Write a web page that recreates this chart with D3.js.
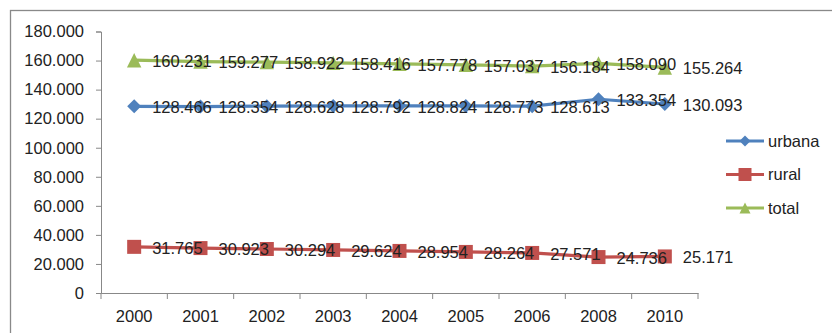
<!DOCTYPE html>
<html><head><meta charset="utf-8">
<script src="https://d3js.org/d3.v7.min.js"></script>
<style>body{margin:0;background:#fff}svg{display:block}text{font-family:"Liberation Sans",Arial,sans-serif;fill:#222}</style>
</head><body><svg id="c" width="832" height="333"></svg>
<script>
const years = ["2000","2001","2002","2003","2004","2005","2006","2008","2010"];
const urbana = [128.466,128.354,128.628,128.792,128.824,128.773,128.613,133.354,130.093];
const rural = [31.765,30.923,30.294,29.624,28.954,28.264,27.571,24.736,25.171];
const total = [160.231,159.277,158.922,158.416,157.778,157.037,156.184,158.090,155.264];
const yTicks = [0,20,40,60,80,100,120,140,160,180];
const seriesNames = ["urbana","rural","total"];
const colors = ["#4F81BD","#C0504D","#9BBB59"];

const svg = d3.select("#c");
const fs = 16.5;
const tickFmt = d => d===0 ? "0" : d + ".000";

svg.append("rect").attr("x",10.5).attr("y",10.5).attr("width",840).attr("height",340)
  .attr("fill","none").attr("stroke","#898989").attr("stroke-width",1.3);

const x = d3.scaleBand().domain(years).range([101,698]);
const y = d3.scaleLinear().domain([0,180]).range([293,31.5]);

const yAxis = svg.append("g").attr("transform","translate(101,0)")
  .call(d3.axisLeft(y).tickValues(yTicks).tickSize(5).tickPadding(12).tickFormat(tickFmt));
yAxis.selectAll("text").style("font-size",fs+"px").attr("fill","#222").attr("font-family","Liberation Sans, Arial");
yAxis.selectAll("line,path").attr("stroke","#888");

const xAxis = svg.append("g").attr("transform","translate(0,293)")
  .call(d3.axisBottom(x).tickSize(0).tickPadding(17));
xAxis.selectAll("text").style("font-size",fs+"px").attr("fill","#222").attr("font-family","Liberation Sans, Arial");
xAxis.select("path").attr("stroke","#888");
const bounds = years.map(d=>x(d)).concat([698]);
xAxis.selectAll("line.b").data(bounds).join("line").attr("class","b")
  .attr("x1",d=>d).attr("x2",d=>d).attr("y1",0).attr("y2",6).attr("stroke","#888");

const shapes = [
  r => `M0,${-r}L${r},0L0,${r}L${-r},0Z`,
  r => `M${-r},${-r}H${r}V${r}H${-r}Z`,
  r => `M0,${-r}L${r},${r}H${-r}Z`
];
const mr = [7,7,7.2];
const lr = [5.5,6.5,5.5];

const data = [urbana,rural,total];
const cx = d => x(d)+x.bandwidth()/2;
const line = d3.line().x((d,i)=>cx(years[i])).y(d=>y(d));

data.forEach((vals,si)=>{
  const g = svg.append("g");
  g.append("path").datum(vals).attr("d",line).attr("fill","none")
    .attr("stroke",colors[si]).attr("stroke-width",3.2).attr("stroke-linejoin","round");
  g.selectAll("path.m").data(vals).join("path").attr("class","m")
    .attr("transform",(d,i)=>`translate(${cx(years[i])},${y(d)})`)
    .attr("d",shapes[si](mr[si])).attr("fill",colors[si]);
  g.selectAll("text").data(vals).join("text")
    .attr("x",(d,i)=>cx(years[i])+18).attr("y",d=>y(d)+1).attr("dy","0.35em")
    .style("font-size",fs+"px").text(d=>d3.format(".3f")(d));
});

const lg = svg.append("g");
seriesNames.forEach((n,i)=>{
  const ly = 141 + i*33.5;
  lg.append("line").attr("x1",726).attr("x2",764).attr("y1",ly).attr("y2",ly)
    .attr("stroke",colors[i]).attr("stroke-width",3);
  lg.append("path").attr("transform",`translate(745,${ly})`)
    .attr("d",shapes[i](lr[i])).attr("fill",colors[i]);
  lg.append("text").attr("x",768).attr("y",ly).attr("dy","0.35em").style("font-size",fs+"px").text(n);
});
</script></body></html>
